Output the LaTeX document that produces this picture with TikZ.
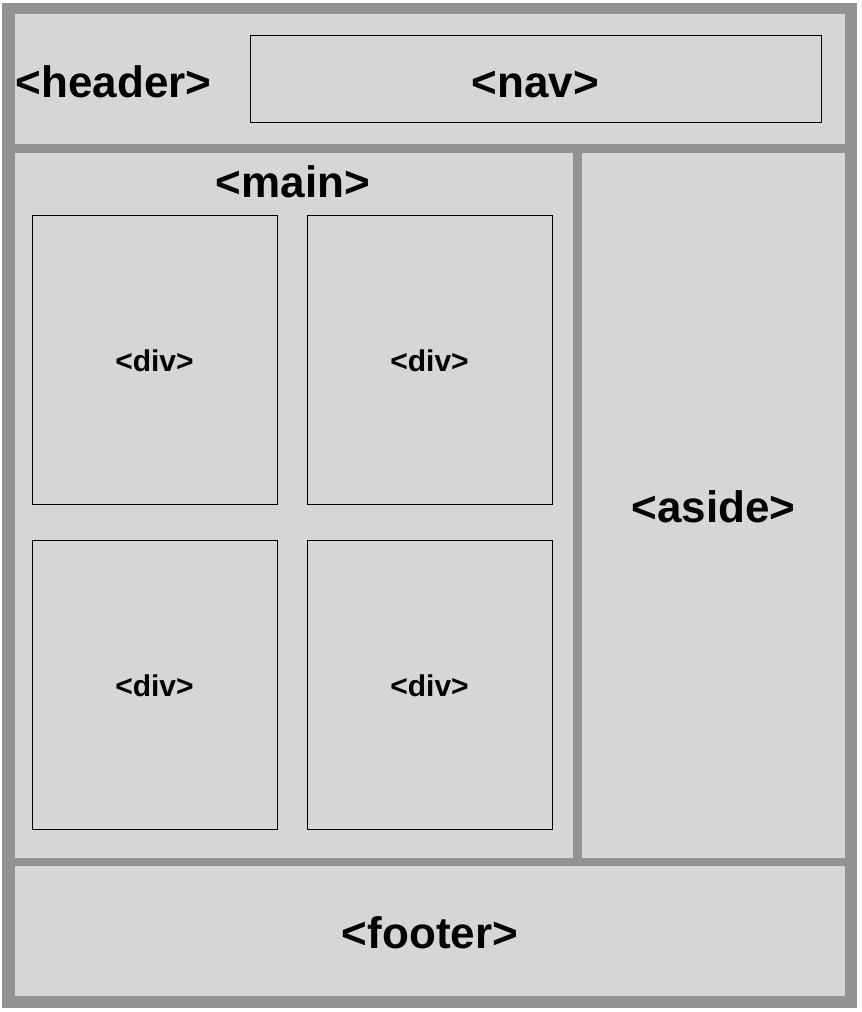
\documentclass[tikz,border=0pt]{standalone}
\usepackage{fontspec}
\setmainfont{Liberation Sans}
\definecolor{darkg}{HTML}{929292}
\definecolor{lightg}{HTML}{D6D6D6}
\begin{document}
\begin{tikzpicture}[x=1pt,y=-1pt,
  panel/.style={rectangle, fill=lightg, draw=none, inner sep=0pt, outer sep=0pt, anchor=north west},
  box/.style={panel, draw=black, line width=1pt},
  big/.style={font=\fontsize{44}{52}\selectfont\bfseries, inner sep=0pt, anchor=base},
  small/.style={font=\fontsize{30}{36}\selectfont\bfseries, inner sep=0pt, anchor=base}]
\useasboundingbox (0,0) rectangle (862,1012);
\fill[white] (0,0) rectangle (862,1012);
\node[panel, fill=darkg, minimum width=855pt, minimum height=1005pt] (frame) at (2,3) {};
% panels
\node[panel, minimum width=830pt, minimum height=130pt] (header) at (15,14) {};
\node[panel, minimum width=558pt, minimum height=705pt] (main) at (15,153) {};
\node[panel, minimum width=263pt, minimum height=705pt] (aside) at (582,153) {};
\node[panel, minimum width=830pt, minimum height=130pt] (footer) at (15,866) {};
% boxes
\node[box, minimum width=571pt, minimum height=87pt] (nav) at (250,35) {};
\node[box, minimum width=245pt, minimum height=289pt] (div1) at (32,215) {};
\node[box, minimum width=245pt, minimum height=289pt] (div2) at (307,215) {};
\node[box, minimum width=245pt, minimum height=289pt] (div3) at (32,540) {};
\node[box, minimum width=245pt, minimum height=289pt] (div4) at (307,540) {};
% labels
\node[big] (tHeader) at (113.5,97) {<header>};
\node[big] (tNav) at (535.5,97) {<nav>};
\node[big] (tMain) at (293,197.5) {<main>};
\node[big] (tAside) at (713.5,522.5) {<aside>};
\node[big] (tFooter) at (430,948.5) {<footer>};
\node[small] (tDiv1) at (154.5,371.5) {<div>};
\node[small] (tDiv2) at (429.5,371.5) {<div>};
\node[small] (tDiv3) at (154.5,696.5) {<div>};
\node[small] (tDiv4) at (429.5,696.5) {<div>};
\end{tikzpicture}
\end{document}
